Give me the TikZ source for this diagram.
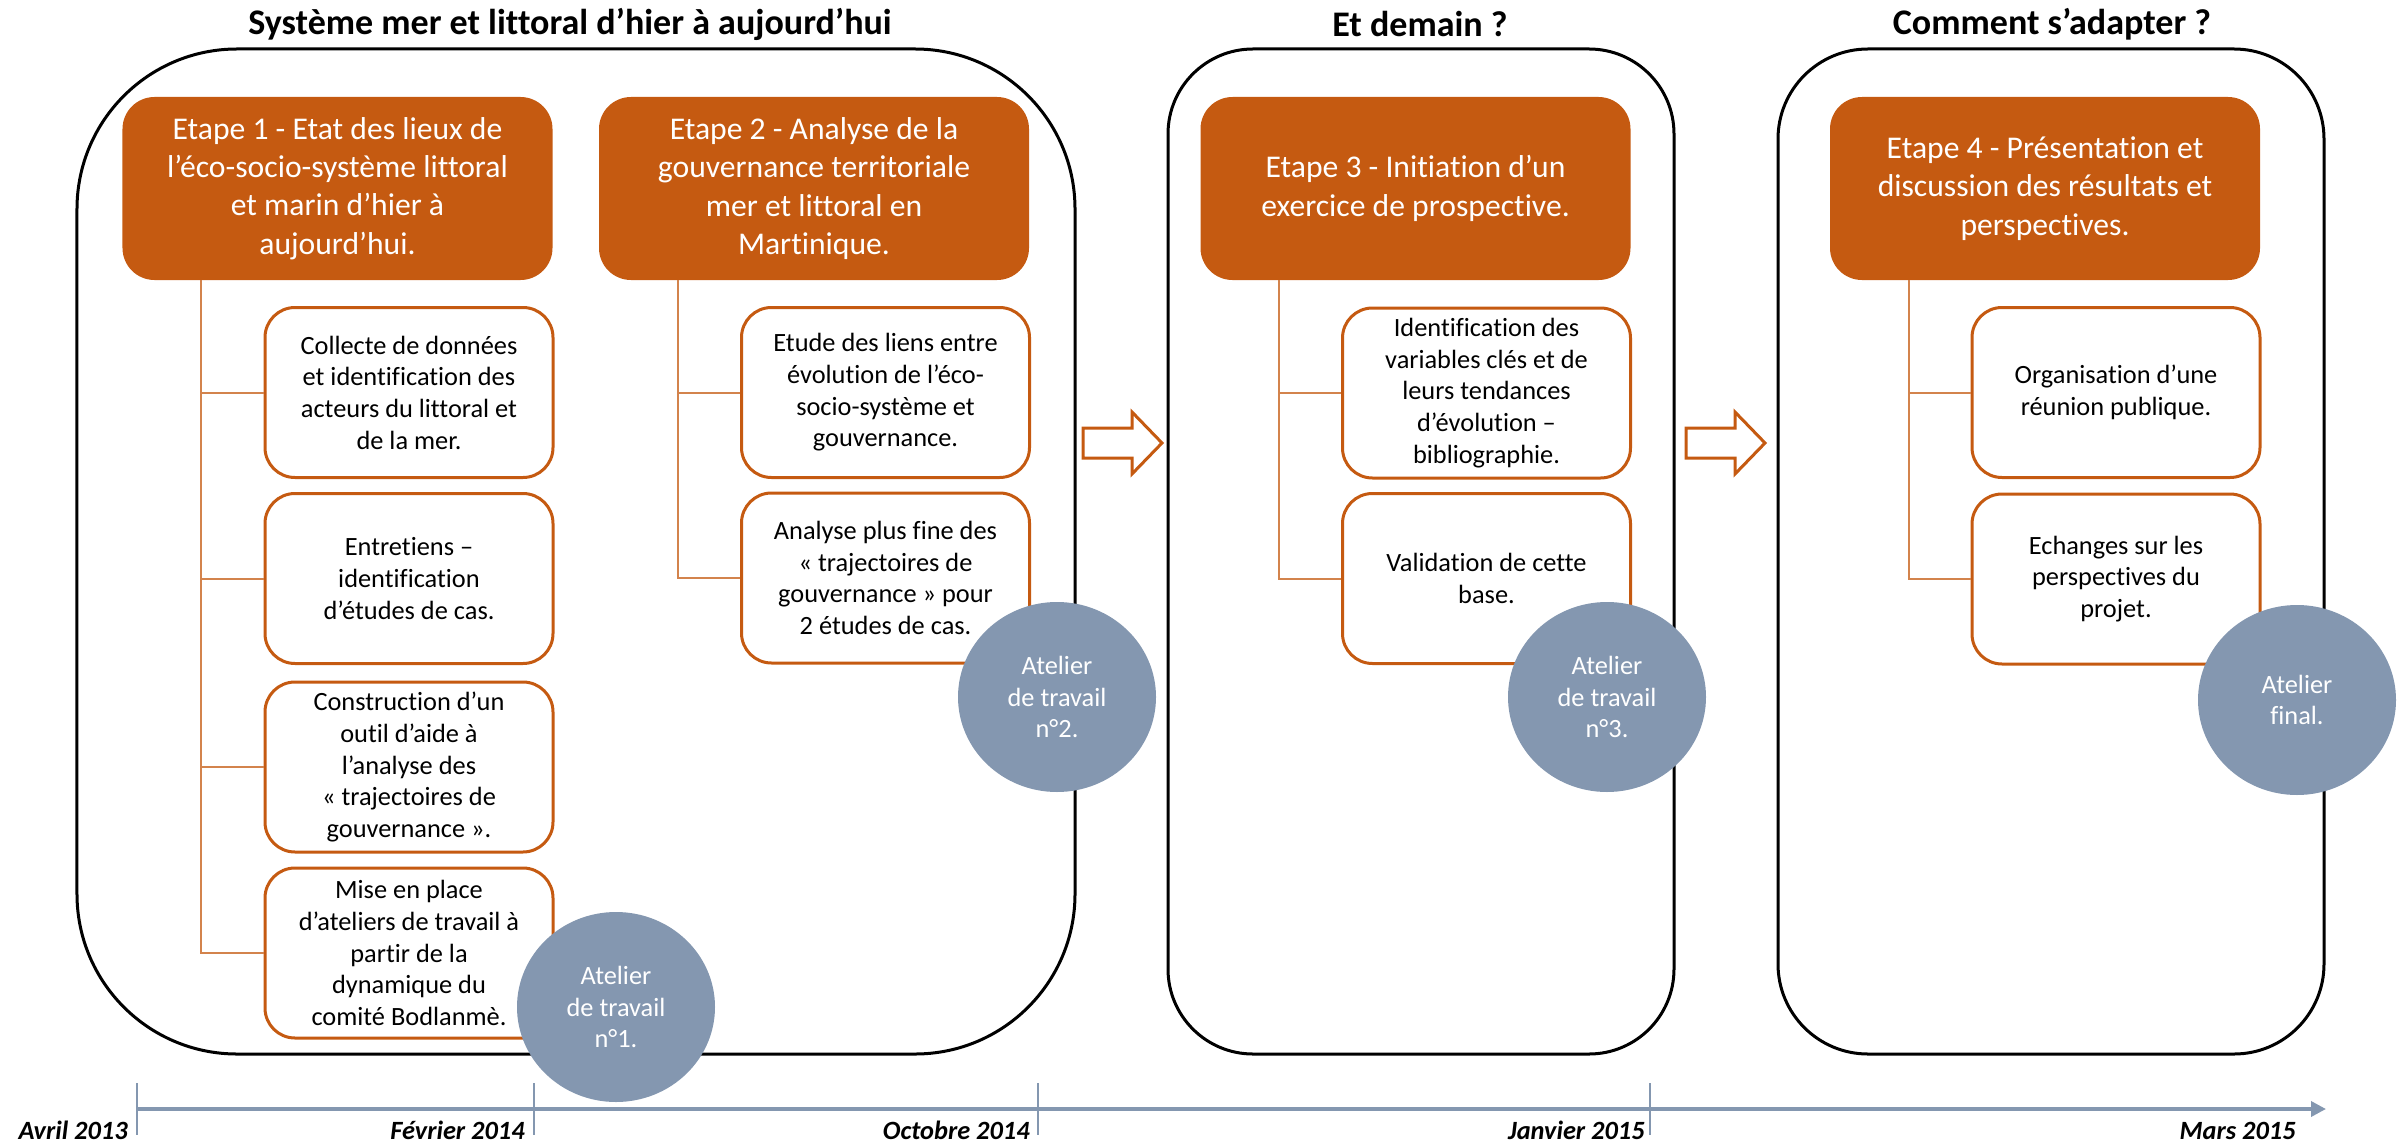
\documentclass[tikz,border=0pt]{standalone}
\usepackage{fontspec}
\setmainfont{Carlito}[Ligatures={NoCommon,NoContextual}]
\usetikzlibrary{arrows.meta,shapes.geometric}
\definecolor{rust}{HTML}{C55A11}
\definecolor{slate}{HTML}{8497B0}
\tikzset{
  phasebox/.style={draw=black,line width=0.6mm,minimum height=201mm,inner sep=0pt},
  heading/.style={font=\fontsize{20.5}{24}\selectfont\bfseries},
  stepbox/.style={fill=rust,text=white,rounded corners=6.4mm,minimum width=86mm,minimum height=36.6mm,
    align=center,inner sep=0pt,font=\fontsize{18}{21.8}\selectfont},
  taskbox/.style={draw=rust,line width=0.6mm,fill=white,rounded corners=6mm,minimum width=57.6mm,
    minimum height=34mm,align=center,inner sep=0pt,font=\fontsize{15}{18}\selectfont},
  twig/.style={draw=rust!75,line width=0.4mm},
  blockarrow/.style={draw=rust,line width=0.6mm,fill=white,line join=miter},
  atelier/.style={ellipse,fill=slate,text=white,minimum width=39.6mm,minimum height=38mm,
    inner sep=0pt,align=center,font=\fontsize{15}{18}\selectfont},
  timeline/.style={draw=slate,line width=0.7mm,-{Triangle[length=3mm,width=3mm]}},
  milestone/.style={draw=slate,line width=0.3mm},
  datelabel/.style={anchor=base east,inner sep=0pt,font=\fontsize{15}{18}\selectfont\bfseries\itshape}
}
\begin{document}
\begin{tikzpicture}[x=0.2mm,y=-0.2mm]
  \path[use as bounding box] (0,0) rectangle (2407,1143);
  % the three phases
  \node[phasebox,minimum width=199.6mm,rounded corners=32mm] (phase1) at (576,551.5) {};
  \node[phasebox,minimum width=101.2mm,rounded corners=17mm] (phase2) at (1421,551.5) {};
  \node[phasebox,minimum width=109.2mm,rounded corners=18mm] (phase3) at (2051,551.5) {};
  \node[heading] (head1) at (570,24) {Système mer et littoral d’hier à aujourd’hui};
  \node[heading] (head2) at (1420,24) {Et demain ?};
  \node[heading] (head3) at (2052,24) {Comment s’adapter ?};

  % steps
  \node[stepbox] (step1) at (337.5,188.5) {Etape 1 - Etat des lieux de\\l’éco-socio-système littoral\\et marin d’hier à\\aujourd’hui.};
  \node[stepbox] (step2) at (814,188.5) {Etape 2 - Analyse de la\\gouvernance territoriale\\mer et littoral en\\Martinique.};
  \node[stepbox] (step3) at (1415.5,188.5) {Etape 3 - Initiation d’un\\exercice de prospective.};
  \node[stepbox] (step4) at (2045,188.5) {Etape 4 - Présentation et\\discussion des résultats et\\perspectives.};

  % tasks
  \node[taskbox] (task11) at (409,392.5) {Collecte de données\\et identification des\\acteurs du littoral et\\de la mer.};
  \node[taskbox] (task12) at (409,578.5) {Entretiens –\\identification\\d’études de cas.};
  \node[taskbox] (task13) at (409,767) {Construction d’un\\outil d’aide à\\l’analyse des\\« trajectoires de\\gouvernance ».};
  \node[taskbox] (task14) at (409,953) {Mise en place\\d’ateliers de travail à\\partir de la\\dynamique du\\comité Bodlanmè.};
  \node[taskbox] (task21) at (885.5,392.5) {Etude des liens entre\\évolution de l’éco-\\socio-système et\\gouvernance.};
  \node[taskbox] (task22) at (885.5,578) {Analyse plus fine des\\« trajectoires de\\gouvernance » pour\\2 études de cas.};
  \node[taskbox] (task31) at (1486.5,393) {Identification des\\variables clés et de\\leurs tendances\\d’évolution –\\bibliographie.};
  \node[taskbox] (task32) at (1486.5,578.5) {Validation de cette\\base.};
  \node[taskbox] (task41) at (2116,392.5) {Organisation d’une\\réunion publique.};
  \node[taskbox] (task42) at (2116,579) {Echanges sur les\\perspectives du\\projet.};

  \foreach \s/\t in {step1/task11,step1/task12,step1/task13,step1/task14,step2/task21,step2/task22,
                     step3/task31,step3/task32,step4/task41,step4/task42}
    \draw[twig] ([xshift=15.8mm]\s.south west) |- (\t.west);

  % arrows between phases
  \coordinate (arr1) at (1083,443);
  \coordinate (arr2) at (1686,443);
  \foreach \a in {arr1,arr2}
    \draw[blockarrow] (\a) ++(0,-15) -- ++(49,0) -- ++(0,-16) -- ++(30,31) -- ++(-30,31)
      -- ++(0,-16) -- ++(-49,0) -- cycle;

  % timeline
  \coordinate (t0) at (137,1109);
  \coordinate (t1) at (2326,1109);
  \draw[timeline] (t0) -- (t1);
  \foreach \x in {137,534,1038,1650}
    \draw[milestone] (\x,1083) -- (\x,1135);
  \foreach \x/\lbl [count=\i] in {128/Avril 2013,525/Février 2014,1030/Octobre 2014,1645/Janvier 2015,2296/Mars 2015}
    \node[datelabel] (date\i) at (\x,1139) {\lbl};

  % workshops
  \node[atelier] (atelier1) at (616,1007) {Atelier\\de travail\\n°1.};
  \node[atelier] (atelier2) at (1057,697) {Atelier\\de travail\\n°2.};
  \node[atelier] (atelier3) at (1607,697) {Atelier\\de travail\\n°3.};
  \node[atelier] (atelier4) at (2297,700) {Atelier\\final.};
\end{tikzpicture}
\end{document}
